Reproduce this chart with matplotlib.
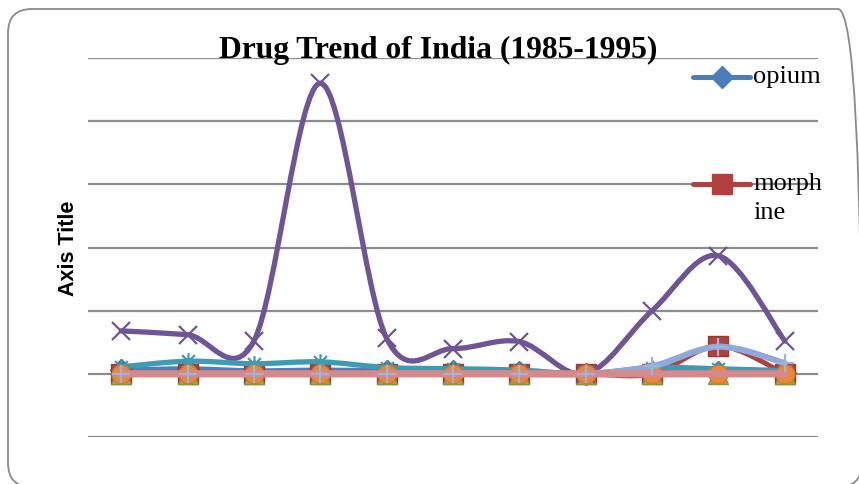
import matplotlib.pyplot as plt
from matplotlib.path import Path
from matplotlib.patches import PathPatch, FancyBboxPatch
from matplotlib.lines import Line2D

years = [1985, 1986, 1987, 1988, 1989, 1990, 1991, 1992, 1993, 1994, 1995]

# values (one gridline = 1000)
opium = [60, 80, 50, 60, 50, 40, 30, 0, 30, 30, 20]
morphine = [0, 0, 0, 0, 0, 0, 0, 0, 0, 440, 0]
series3 = [0, 0, 0, 0, 0, 0, 0, 0, 0, 0, 0]
series4 = [680, 620, 520, 4600, 560, 400, 510, 0, 1000, 1870, 520]
series5 = [110, 200, 160, 190, 100, 80, 60, 0, 100, 80, 50]
series6 = [0, 0, 0, 0, 0, 0, 0, 0, 0, 0, 0]
series7 = [0, 0, 0, 0, 0, 0, 0, 0, 120, 430, 170]
series8 = [0, 0, 0, 0, 0, 0, 0, 0, 0, 0, 0]

W, H = 859, 484


def smooth_path(xs, ys):
    # Excel style smoothed line: cubic bezier with catmull-rom control points
    n = len(xs)
    verts = [(xs[0], ys[0])]
    codes = [Path.MOVETO]
    for i in range(n - 1):
        x0, y0 = xs[max(i - 1, 0)], ys[max(i - 1, 0)]
        x1, y1 = xs[i], ys[i]
        x2, y2 = xs[i + 1], ys[i + 1]
        x3, y3 = xs[min(i + 2, n - 1)], ys[min(i + 2, n - 1)]
        c1 = (x1 + (x2 - x0) / 6, y1 + (y2 - y0) / 6)
        c2 = (x2 - (x3 - x1) / 6, y2 - (y3 - y1) / 6)
        verts += [c1, c2, (x2, y2)]
        codes += [Path.CURVE4] * 3
    return Path(verts, codes)


def draw_line(ax, ys, color, lw, z):
    xs = list(range(len(ys)))
    patch = PathPatch(smooth_path(xs, ys), fill=False, edgecolor=color,
                      linewidth=lw, zorder=z, capstyle='round', joinstyle='round')
    ax.add_patch(patch)


def draw_markers(ax, ys, marker, size, face, edge, mew, z):
    xs = list(range(len(ys)))
    ax.plot(xs, ys, linestyle='none', marker=marker, markersize=size,
            markerfacecolor=face, markeredgecolor=edge, markeredgewidth=mew, zorder=z)


# asterisk-like star marker (x + vertical bar)
star = Path([(-1, -1), (1, 1), (-1, 1), (1, -1), (0, -1.3), (0, 1.3)],
            [Path.MOVETO, Path.LINETO, Path.MOVETO, Path.LINETO, Path.MOVETO, Path.LINETO])

fig = plt.figure(figsize=(W / 100, H / 100), dpi=100)
ax = fig.add_axes([88 / W, 1 - 437 / H, (818 - 88) / W, (437 - 58) / H])

ax.set_xlim(-0.5, len(years) - 0.5)
ax.set_ylim(-1000, 5000)
ax.set_yticks(range(-1000, 5001, 1000))
ax.set_xticks([])
ax.yaxis.grid(True, color='#8c8c8c', linewidth=1.6)
ax.set_axisbelow(True)
ax.tick_params(left=False, labelleft=False)
for s in ax.spines.values():
    s.set_visible(False)

draw_line(ax, opium, '#4a7ebb', 3.6, 2.0)
draw_markers(ax, opium, 'D', 11, '#4a7ebb', '#3d6ba0', 1, 2.05)
draw_line(ax, morphine, '#b0413e', 3.6, 2.1)
draw_markers(ax, morphine, 's', 14, '#b0413e', '#9a3835', 1, 2.15)
draw_line(ax, series3, '#8fb356', 3.6, 2.2)
draw_markers(ax, series3, '^', 14, '#8fb356', '#7a9a48', 1, 2.25)
draw_line(ax, series4, '#6f5496', 3.8, 2.3)
draw_markers(ax, series4, 'x', 13, 'none', '#6f5496', 1.6, 2.35)
draw_line(ax, series5, '#3d9bb3', 3.8, 2.4)
draw_markers(ax, series5, star, 12, 'none', '#3d9bb3', 1.6, 2.45)
draw_line(ax, series6, '#e8893a', 3.6, 2.5)
draw_markers(ax, series6, 'o', 13.5, '#e8893a', '#d9782c', 1, 2.55)
draw_line(ax, series7, '#8eaadb', 4.4, 2.6)
draw_line(ax, series8, '#d4898a', 5.2, 2.7)
draw_markers(ax, series7, '+', 13, 'none', '#9fb5d6', 1.6, 2.8)

# title and axis title
fig.text(438 / W, 1 - 58 / H, 'Drug Trend of India (1985-1995)', ha='center', va='baseline',
         fontsize=22.8, fontweight='bold', family='Liberation Serif')
fig.text(69 / W, 1 - 248 / H, 'Axis Title', rotation=90, ha='center', va='center',
         fontsize=15.5, fontweight='bold', family='Liberation Sans')

# legend (only the first two entries fit in the original)
fig.add_artist(Line2D([693 / W, 750 / W], [1 - 77 / H, 1 - 77 / H], color='#4a7ebb', linewidth=3.6,
                      solid_capstyle='round', transform=fig.transFigure))
fig.add_artist(Line2D([721.5 / W], [1 - 77 / H], color='#4a7ebb', marker='D', markersize=11,
                      linestyle='none', transform=fig.transFigure))
fig.text(753 / W, 1 - 77 / H, 'opium', ha='left', va='center', fontsize=19, family='Liberation Serif')
fig.add_artist(Line2D([693 / W, 750 / W], [1 - 184 / H, 1 - 184 / H], color='#b0413e', linewidth=3.6,
                      solid_capstyle='round', transform=fig.transFigure))
fig.add_artist(Line2D([721.5 / W], [1 - 184 / H], color='#b0413e', marker='s', markersize=14,
                      linestyle='none', transform=fig.transFigure))
fig.text(753 / W, 1 - 184 / H, 'morph', ha='left', va='center', fontsize=19, family='Liberation Serif')
fig.text(753 / W, 1 - 213 / H, 'ine', ha='left', va='center', fontsize=19, family='Liberation Serif')

# rounded chart border, slightly larger than the image on the right and bottom
border = FancyBboxPatch((0.08, (H - 487) / 100), (862 - 8) / 100, (487 - 9) / 100,
                        boxstyle='round,pad=0,rounding_size=0.24', fill=False,
                        edgecolor='#8a8a8a', linewidth=1.3, transform=fig.dpi_scale_trans)
fig.add_artist(border)

fig.savefig('out.png', dpi=100)
